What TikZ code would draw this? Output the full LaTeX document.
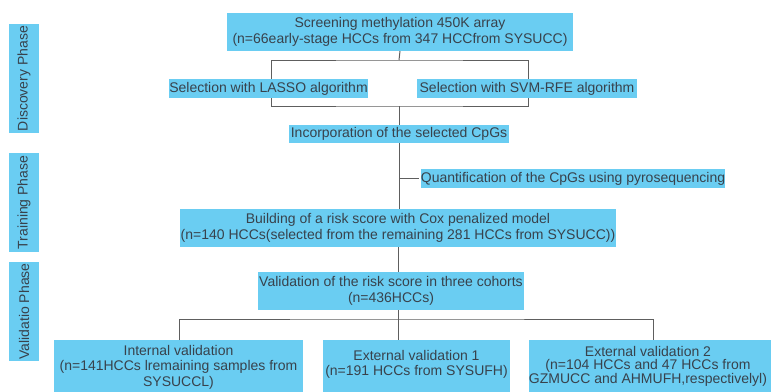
\documentclass[tikz,border=0pt]{standalone}
\usepackage{fontspec}
\setmainfont{Liberation Sans}
\definecolor{boxblue}{HTML}{6ACDF2}
\definecolor{inkgrey}{HTML}{38424C}
\definecolor{linegrey}{HTML}{5E5E5E}
\begin{document}
\begin{tikzpicture}[x=1pt,y=-1pt,
  every node/.style={font=\fontsize{14}{15.5}\selectfont, text=inkgrey},
  box/.style={fill=boxblue, inner sep=0pt, align=center},
  phase/.style={fill=boxblue, inner sep=0pt, rotate=90, minimum height=30pt},
  link/.style={draw=linegrey, line width=1pt}]
\useasboundingbox (0,0) rectangle (771,391);

% phase labels on the left
\node[phase, minimum width=109pt] (ph1) at (24,78.5) {Discovery Phase};
\node[phase, minimum width=99pt] (ph2) at (24,202.5) {Training Phase};
\node[phase, minimum width=99pt] (ph3) at (24,311.5) {Validatio Phase};

% discovery
\node[box, minimum width=346pt, minimum height=38pt] (screen) at (400,32)
  {Screening methylation 450K array\\(n=66early-stage HCCs from 347 HCCfrom SYSUCC)};
\node[box, minimum width=197pt, minimum height=19pt] (lasso) at (268.5,88.5)
  {Selection with LASSO algorithm};
\node[box, minimum width=220pt, minimum height=19pt] (svm) at (527,88.5)
  {Selection with SVM-RFE algorithm};
\node[box, minimum width=220pt, minimum height=18pt] (incorp) at (399,134)
  {Incorporation of the selected CpGs};

% training
\node[box, minimum width=304pt, minimum height=19pt] (quant) at (573,178.5)
  {Quantification of the CpGs using pyrosequencing};
\node[box, minimum width=436pt, minimum height=38pt] (build) at (398,228)
  {Building of a risk score with Cox penalized model\\(n=140 HCCs(selected from the remaining 281 HCCs from SYSUCC))};

% validation
\node[box, minimum width=266pt, minimum height=38pt] (valid) at (391,291)
  {Validation of the risk score in three cohorts\\(n=436HCCs)};
\node[box, minimum width=249pt, minimum height=56pt, anchor=north west] (intbox) at (54,340) {};
\node[box, minimum width=187pt, minimum height=56pt, anchor=north west] (ext1box) at (323,340) {};
\node[box, minimum width=250pt, minimum height=56pt, anchor=north west] (ext2box) at (529,340) {};
\node[align=center, inner sep=0pt] (inttxt) at (178.5,367)
  {Internal validation\\(n=141HCCs lremaining samples from\\SYSUCCL)};
\node[align=center, inner sep=0pt] (ext1txt) at (416.5,364.5)
  {External validation 1\\(n=191 HCCs from SYSUFH)};
\node[align=center, inner sep=0pt, font=\fontsize{14}{13}\selectfont] (ext2txt) at (648,366)
  {External validation 2\\(n=104 HCCs and 47 HCCs from\\GZMUCC and AHMUFH,respectivelyl)};

% junctions
\coordinate (j1) at (399,60);
\coordinate (j2) at (399,106);
\coordinate (j3) at (398,319);

% connectors
\draw[link] (screen.south) -- (j1);
\draw[link] ([xshift=2.5pt]lasso.north) |- (j1) -| ([xshift=1pt]svm.north);
\draw[link] ([xshift=2.5pt]lasso.south) |- (j2) -| ([xshift=1pt]svm.south);
\draw[link] (j2) -- (incorp.north);
\draw[link] (incorp.south) -- (incorp.south |- build.north);
\draw[link] (incorp.south |- quant.west) -- ([xshift=-2pt]quant.west);
\draw[link] (build.south -| j3) -- (valid.north -| j3);
\draw[link] (valid.south -| j3) -- (j3);
\draw[link] (j3) -- (ext1box.north -| j3);
\draw[link] ([xshift=0.5pt]intbox.north) |- (j3) -| ([xshift=-0.5pt]ext2box.north -| 654,0);
\end{tikzpicture}
\end{document}
